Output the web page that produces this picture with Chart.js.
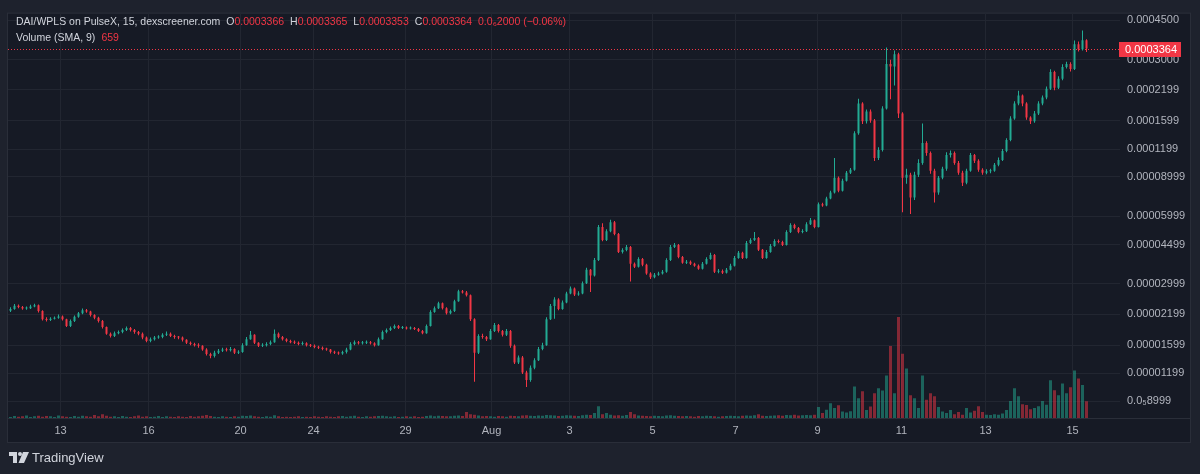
<!DOCTYPE html>
<html>
<head>
<meta charset="utf-8">
<script src="https://cdn.jsdelivr.net/npm/chart.js@4.4.1/dist/chart.umd.min.js"></script>
<style>
  html, body { margin: 0; padding: 0; background: #1e222d; }
  #wrap { position: relative; width: 1200px; height: 474px; overflow: hidden; }
  #c { position: absolute; left: 0; top: 0; }
  .legend { position: absolute; left: 16px; font: 10.5px 'Liberation Sans', Arial, sans-serif; color: #d1d4dc; white-space: nowrap; }
  .legend .r { color: #f23645; }
  .legend .g { margin-left: 6px; }
  #foot { position: absolute; left: 9px; top: 450px; font: 13px 'Liberation Sans', Arial, sans-serif; color: #d1d4dc; }
  #foot svg { vertical-align: -1px; margin-right: 3px; }
</style>
</head>
<body>
<div id="wrap">
  <canvas id="c" width="1200" height="474"></canvas>
  <div class="legend" style="top:15px">DAI/WPLS on PulseX, 15, dexscreener.com<span class="g">O</span><span class="r">0.0003366</span><span class="g">H</span><span class="r">0.0003365</span><span class="g">L</span><span class="r">0.0003353</span><span class="g">C</span><span class="r">0.0003364</span><span class="g r">0.0₆2000 (−0.06%)</span></div>
  <div class="legend" style="top:31px">Volume (SMA, 9)<span class="g r">659</span></div>
  <div id="foot"><svg width="20" height="11" viewBox="0 0 20 11"><path d="M0 0H8V11H4V4H0Z" fill="#d1d4dc"/><circle cx="11" cy="2" r="2" fill="#d1d4dc"/><path d="M14 0H20L15 11H9.5Z" fill="#d1d4dc"/></svg>TradingView</div>
</div>
<script>
(function () {
    'use strict';

    // prices in units of 0.000001, one candle per ~9 bars of the 15m chart
    var UNIT = 1e-6;

    var open = [
        22.8, 23.2, 24.0, 23.7, 23.3, 23.4, 23.8, 24.1, 22.7, 20.9,
        20.7, 21.0, 21.2, 21.5, 20.9, 19.5, 20.5, 21.4, 22.2, 22.9,
        22.6, 21.8, 21.2, 20.5, 19.3, 18.0, 17.6, 18.1, 18.3, 18.7,
        19.1, 18.7, 18.3, 18.0, 17.3, 16.7, 17.0, 17.3, 17.4, 17.8,
        18.0, 17.6, 17.4, 17.3, 16.9, 16.4, 16.2, 16.0, 15.9, 15.3,
        14.6, 14.3, 14.8, 15.1, 15.3, 15.2, 15.4, 14.8, 14.9, 16.0,
        17.0, 17.8, 16.4, 15.9, 16.0, 16.2, 16.5, 18.0, 17.4, 17.0,
        16.7, 16.5, 16.4, 16.2, 16.3, 16.0, 15.9, 15.7, 15.6, 15.4,
        15.3, 14.9, 14.8, 14.7, 14.9, 15.3, 16.2, 16.5, 16.3, 16.4,
        16.5, 16.3, 16.0, 17.0, 18.3, 18.7, 19.1, 19.5, 19.1, 19.2,
        19.0, 19.1, 18.9, 18.5, 18.1, 19.5, 22.5, 23.4, 24.6, 23.4,
        22.2, 22.7, 25.1, 27.8, 27.5, 26.7, 20.9, 14.8, 17.6, 17.4,
        17.0, 18.5, 19.7, 18.5, 17.8, 18.5, 15.9, 13.4, 14.1, 12.1,
        11.2, 12.7, 13.7, 15.4, 16.0, 20.9, 23.9, 25.6, 23.2, 24.8,
        27.2, 28.6, 26.9, 27.2, 30.2, 34.7, 32.7, 38.4, 53.8, 47.1,
        51.6, 56.6, 50.1, 41.7, 42.5, 43.9, 36.9, 35.8, 38.8, 36.5,
        33.4, 32.1, 33.0, 33.4, 34.0, 38.4, 43.9, 44.8, 39.6, 37.3,
        37.7, 36.9, 36.2, 35.1, 36.9, 38.8, 40.4, 34.0, 34.3, 33.7,
        34.7, 36.2, 39.2, 41.3, 39.2, 45.7, 47.1, 48.1, 42.6, 39.2,
        41.7, 44.3, 46.6, 46.2, 44.8, 51.1, 54.9, 53.3, 51.1, 51.6,
        55.4, 57.7, 53.8, 68.0, 67.2, 72.1, 76.7, 89.3, 78.2, 86.6,
        94.0, 96.9, 141.0, 191.2, 159.3, 176.4, 160.8, 109.4, 118.7, 181.8,
        287.0, 280.0, 317.6, 172.8, 89.3, 92.0, 72.9, 92.1, 104.0, 127.4,
        115.1, 96.0, 76.7, 89.3, 97.9, 112.8, 115.1, 104.0, 94.0, 84.9,
        96.0, 112.8, 106.2, 97.0, 94.0, 95.5, 96.0, 101.9, 107.2, 117.5,
        131.4, 164.2, 191.2, 207.5, 191.2, 165.9, 159.3, 172.8, 191.2, 203.3,
        222.7, 264.7, 225.0, 246.5, 278.5, 287.0, 272.8, 351.6, 334.2, 366.0
    ];
    var high = [
        23.6, 24.4, 24.3, 23.9, 23.8, 24.2, 24.5, 24.3, 22.9, 21.3,
        21.3, 21.5, 21.9, 21.7, 21.0, 20.8, 21.7, 22.5, 23.3, 23.2,
        22.8, 22.0, 21.4, 20.7, 19.4, 18.2, 18.4, 18.6, 19.0, 19.4,
        19.3, 18.9, 18.5, 18.2, 17.5, 17.3, 17.6, 17.7, 18.1, 18.4,
        18.2, 17.8, 17.6, 17.5, 17.0, 16.6, 16.4, 16.3, 16.0, 15.5,
        14.8, 15.1, 15.4, 15.6, 15.6, 15.7, 15.5, 15.2, 16.3, 17.4,
        18.5, 17.9, 16.5, 16.3, 16.5, 16.8, 18.8, 18.2, 17.6, 17.2,
        16.9, 16.8, 16.6, 16.6, 16.5, 16.2, 16.1, 15.9, 15.8, 15.6,
        15.4, 15.1, 15.0, 15.1, 15.6, 16.5, 16.8, 16.7, 16.7, 16.8,
        16.7, 16.5, 17.3, 18.6, 19.0, 19.4, 19.8, 19.7, 19.5, 19.4,
        19.4, 19.3, 19.1, 18.7, 19.8, 22.9, 23.8, 25.0, 24.8, 23.6,
        23.1, 25.5, 28.3, 28.2, 27.9, 26.9, 21.1, 17.9, 18.0, 17.6,
        18.9, 20.1, 19.9, 18.7, 18.9, 18.7, 16.1, 14.4, 14.3, 12.3,
        13.0, 14.0, 15.7, 16.4, 21.3, 24.4, 26.2, 25.9, 25.3, 27.7,
        29.2, 28.9, 27.8, 30.8, 35.4, 35.0, 39.2, 55.0, 56.0, 52.6,
        58.0, 57.2, 50.6, 43.3, 44.8, 44.3, 37.4, 39.5, 39.2, 36.9,
        33.8, 33.6, 34.0, 34.6, 39.1, 44.7, 45.7, 45.2, 40.0, 38.4,
        38.2, 37.3, 36.6, 37.6, 39.5, 41.3, 40.8, 35.0, 34.8, 35.3,
        36.9, 40.0, 42.1, 41.8, 46.6, 48.0, 51.1, 48.6, 43.0, 42.5,
        45.2, 47.5, 47.4, 46.8, 52.1, 56.0, 55.6, 53.8, 52.6, 56.5,
        59.0, 58.2, 69.3, 69.0, 73.5, 78.2, 109.4, 90.5, 88.3, 95.8,
        98.8, 144, 201, 194, 180, 180, 163, 122, 186, 340,
        300, 330, 322, 175, 98, 94, 95, 108, 156, 130,
        117, 98, 91, 100, 116, 118, 117, 106, 96, 98,
        115, 114, 108, 98.5, 97.5, 98, 104, 110, 120, 134,
        168, 196, 218, 210, 194, 168, 177, 196, 208, 228,
        272, 268, 253, 286, 294, 292, 365, 362, 405, 370
    ];
    var low = [
        22.5, 23.0, 23.4, 23.0, 23.0, 23.2, 23.6, 22.4, 20.6, 20.4,
        20.5, 20.8, 21.0, 20.6, 19.3, 19.3, 20.3, 21.2, 22.0, 22.3,
        21.5, 20.9, 20.2, 19.0, 17.8, 17.3, 17.4, 17.9, 18.1, 18.5,
        18.4, 18.0, 17.7, 17.0, 16.5, 16.5, 16.8, 17.1, 17.2, 17.6,
        17.4, 17.1, 17.0, 16.6, 16.2, 16.0, 15.8, 15.6, 15.1, 14.4,
        14.0, 14.1, 14.6, 14.9, 15.0, 15.0, 14.6, 14.6, 14.8, 15.9,
        16.9, 16.2, 15.7, 15.7, 15.8, 16.0, 16.4, 17.2, 16.8, 16.5,
        16.3, 16.2, 16.0, 16.0, 15.8, 15.7, 15.5, 15.4, 15.2, 15.1,
        14.7, 14.6, 14.5, 14.5, 14.7, 15.2, 16.0, 16.1, 16.1, 16.2,
        16.1, 15.8, 15.9, 16.9, 18.1, 18.5, 18.9, 18.9, 18.9, 18.8,
        18.8, 18.7, 18.3, 17.9, 18.0, 19.4, 22.3, 23.2, 23.1, 21.9,
        22.0, 22.5, 25.0, 27.2, 26.4, 20.5, 11.0, 14.6, 17.1, 16.7,
        16.9, 18.3, 18.2, 17.5, 17.6, 15.6, 13.2, 13.2, 11.9, 10.4,
        11.0, 12.5, 13.6, 15.2, 15.9, 20.7, 21.0, 22.9, 23.0, 24.6,
        27.0, 26.5, 26.6, 27.0, 30.0, 27.6, 32.4, 38.0, 46.5, 46.6,
        51.0, 49.5, 41.2, 41.0, 42.0, 30.8, 35.3, 35.5, 36.0, 33.0,
        31.6, 31.8, 32.6, 33.1, 33.7, 38.0, 43.4, 39.1, 36.9, 36.8,
        36.4, 35.8, 34.7, 34.8, 36.6, 38.5, 33.6, 33.5, 33.2, 33.4,
        34.4, 35.9, 38.9, 38.8, 38.9, 45.2, 46.6, 42.1, 38.8, 38.9,
        41.3, 44.0, 45.6, 44.3, 44.5, 50.6, 52.6, 50.5, 50.5, 51.2,
        55.0, 53.2, 53.5, 66.2, 66.6, 71.5, 76.0, 77.0, 77.6, 85.8,
        92.8, 96, 139, 155, 156, 157, 106, 107, 117, 180,
        200, 230, 165, 62.6, 84, 61.5, 71, 90, 102, 112,
        93, 69.3, 75, 88, 96, 110, 102, 92, 82, 83.5,
        95, 104, 95, 92, 92.5, 93.5, 95, 100.5, 106, 116,
        130, 162, 188, 186, 162, 155, 157, 170, 188, 200,
        220, 219, 222, 243, 274, 266, 270, 326, 330, 325
    ];
    var close = [
        23.2, 24.0, 23.7, 23.3, 23.4, 23.8, 24.1, 22.7, 20.9, 20.7,
        21.0, 21.2, 21.5, 20.9, 19.5, 20.5, 21.4, 22.2, 22.9, 22.6,
        21.8, 21.2, 20.5, 19.3, 18.0, 17.6, 18.1, 18.3, 18.7, 19.1,
        18.7, 18.3, 18.0, 17.3, 16.7, 17.0, 17.3, 17.4, 17.8, 18.0,
        17.6, 17.4, 17.3, 16.9, 16.4, 16.2, 16.0, 15.9, 15.3, 14.6,
        14.3, 14.8, 15.1, 15.3, 15.2, 15.4, 14.8, 14.9, 16.0, 17.0,
        17.8, 16.4, 15.9, 16.0, 16.2, 16.5, 18.0, 17.4, 17.0, 16.7,
        16.5, 16.4, 16.2, 16.3, 16.0, 15.9, 15.7, 15.6, 15.4, 15.3,
        14.9, 14.8, 14.7, 14.9, 15.3, 16.2, 16.5, 16.3, 16.4, 16.5,
        16.3, 16.0, 17.0, 18.3, 18.7, 19.1, 19.5, 19.1, 19.2, 19.0,
        19.1, 18.9, 18.5, 18.1, 19.5, 22.5, 23.4, 24.6, 23.4, 22.2,
        22.7, 25.1, 27.8, 27.5, 26.7, 20.9, 14.8, 17.6, 17.4, 17.0,
        18.5, 19.7, 18.5, 17.8, 18.5, 15.9, 13.4, 14.1, 12.1, 11.2,
        12.7, 13.7, 15.4, 16.0, 20.9, 23.9, 25.6, 23.2, 24.8, 27.2,
        28.6, 26.9, 27.2, 30.2, 34.7, 32.7, 38.4, 53.8, 47.1, 51.6,
        56.6, 50.1, 41.7, 42.5, 43.9, 36.9, 35.8, 38.8, 36.5, 33.4,
        32.1, 33.0, 33.4, 34.0, 38.4, 43.9, 44.8, 39.6, 37.3, 37.7,
        36.9, 36.2, 35.1, 36.9, 38.8, 40.4, 34.0, 34.3, 33.7, 34.7,
        36.2, 39.2, 41.3, 39.2, 45.7, 47.1, 48.1, 42.6, 39.2, 41.7,
        44.3, 46.6, 46.2, 44.8, 51.1, 54.9, 53.3, 51.1, 51.6, 55.4,
        57.7, 53.8, 68.0, 67.2, 72.1, 76.7, 89.3, 78.2, 86.6, 94.0,
        96.9, 141.0, 191.2, 159.3, 176.4, 160.8, 109.4, 118.7, 181.8, 287.0,
        280.0, 317.6, 172.8, 89.3, 92.0, 72.9, 92.1, 104.0, 127.4, 115.1,
        96.0, 76.7, 89.3, 97.9, 112.8, 115.1, 104.0, 94.0, 84.9, 96.0,
        112.8, 106.2, 97.0, 94.0, 95.5, 96.0, 101.9, 107.2, 117.5, 131.4,
        164.2, 191.2, 207.5, 191.2, 165.9, 159.3, 172.8, 191.2, 203.3, 222.7,
        264.7, 225.0, 246.5, 278.5, 287.0, 272.8, 351.6, 334.2, 366.0, 336.4
    ];
    var volume = [
        20, 35, 25, 30, 45, 20, 30, 40, 25, 35,
        30, 20, 45, 30, 25, 20, 35, 25, 40, 30,
        25, 55, 30, 70, 40, 25, 30, 20, 35, 25,
        20, 30, 45, 25, 30, 20, 25, 35, 20, 30,
        25, 20, 30, 25, 20, 35, 25, 30, 40, 55,
        35, 25, 20, 30, 25, 20, 30, 25, 40, 35,
        45, 30, 25, 20, 30, 25, 50, 30, 20, 25,
        20, 25, 30, 20, 25, 20, 30, 25, 20, 30,
        25, 20, 30, 35, 25, 30, 40, 25, 20, 30,
        25, 30, 35, 40, 30, 25, 30, 20, 25, 30,
        25, 30, 20, 25, 35, 45, 30, 40, 35, 30,
        30, 40, 45, 35, 110, 70, 60, 45, 30, 35,
        30, 25, 35, 30, 25, 40, 35, 30, 45, 50,
        40, 35, 45, 40, 55, 50, 45, 35, 40, 50,
        45, 40, 35, 50, 60, 55, 90, 215, 70, 90,
        60, 45, 50, 40, 55, 110, 70, 45, 40, 35,
        30, 40, 35, 30, 45, 50, 40, 35, 30, 35,
        30, 25, 35, 30, 40, 35, 30, 25, 30, 35,
        40, 35, 30, 40, 45, 40, 50, 70, 40, 35,
        40, 45, 50, 40, 55, 50, 60, 45, 50, 55,
        50, 60, 200, 90, 150, 270, 180, 230, 120, 100,
        125, 575, 360, 485, 145, 210, 450, 540, 500, 775,
        1310, 450, 1840, 1170, 900, 415, 360, 180, 775, 330,
        450, 395, 200, 120, 90, 145, 70, 110, 60, 180,
        100, 130, 215, 110, 60, 55, 70, 60, 80, 145,
        310, 540, 395, 250, 235, 160, 180, 215, 310, 240,
        685, 505, 415, 630, 450, 560, 865, 720, 600, 305
    ];

    // time axis: position (in candles) of each day label
    var dayLabels = ['13', '16', '20', '24', '29', 'Aug', '3', '5', '7', '9', '11', '13', '15'];
    var dayTickAt = [13, 35, 58, 76.25, 99.25, 120.75, 140.25, 161, 181.75, 202.25, 223.25, 244.25, 266];

    // price axis ticks (units of 0.000001)
    var priceTicks = [8.999, 11.99, 15.99, 21.99, 29.99, 44.99, 59.99, 89.99, 119.9, 159.9, 219.9, 300, 450];
    var priceLabels = ['0.0₅8999', '0.00001199', '0.00001599', '0.00002199', '0.00002999', '0.00004499',
        '0.00005999', '0.00008999', '0.0001199', '0.0001599', '0.0002199', '0.0003000', '0.0004500'];

    var UP = '#22ab94', DOWN = '#f23645';
    var UP_V = 'rgba(34,171,148,0.5)', DOWN_V = 'rgba(242,54,69,0.5)';

    var n = close.length;
    var bodies = [], wicks = [], vols = [];
    for (var i = 0; i < n; i++) {
        bodies.push({ x: i + 0.5, y: [open[i] * UNIT, close[i] * UNIT] });
        wicks.push({ x: i + 0.5, y: [low[i] * UNIT, high[i] * UNIT] });
        vols.push({ x: i + 0.5, y: volume[i] });
    }
    var isUp = function (ctx) { return close[ctx.dataIndex] >= open[ctx.dataIndex]; };

    var frame = {
        id: 'frame',
        beforeDraw: function (chart) {
            var ctx = chart.ctx, a = chart.chartArea;
            ctx.save();
            ctx.fillStyle = '#1e222d';
            ctx.fillRect(0, 0, chart.width, chart.height);
            ctx.fillStyle = '#161a25';
            ctx.fillRect(a.left, a.top, chart.width - 10 - a.left, 442 - a.top);
            ctx.strokeStyle = '#2a2e39';
            ctx.lineWidth = 1;
            ctx.strokeRect(a.left - 0.5, a.top - 0.5, chart.width - 10 - a.left + 1, 442 - a.top + 1);
            ctx.beginPath();
            ctx.moveTo(a.left, a.bottom + 0.5);
            ctx.lineTo(chart.width - 10, a.bottom + 0.5);
            ctx.stroke();
            ctx.restore();
        },
        beforeDatasetsDraw: function (chart) {
            var ctx = chart.ctx, a = chart.chartArea;
            var y = Math.round(chart.scales.y.getPixelForValue(close[n - 1] * UNIT)) + 0.5;
            ctx.save();
            ctx.strokeStyle = DOWN;
            ctx.setLineDash([1, 2]);
            ctx.beginPath();
            ctx.moveTo(a.left, y);
            ctx.lineTo(a.right, y);
            ctx.stroke();
            ctx.restore();
        },
        afterDraw: function (chart) {
            var ctx = chart.ctx, a = chart.chartArea;
            var y = chart.scales.y.getPixelForValue(close[n - 1] * UNIT);
            ctx.save();
            ctx.fillStyle = DOWN;
            ctx.fillRect(a.right - 1, Math.round(y) - 7, 62, 15);
            ctx.fillStyle = '#ffffff';
            ctx.font = '11px "Liberation Sans", Arial, sans-serif';
            ctx.textBaseline = 'middle';
            ctx.fillText((close[n - 1] * UNIT).toFixed(7), a.right + 5, Math.round(y) + 0.5);
            ctx.restore();
        }
    };

    new Chart(document.getElementById('c'), {
        type: 'bar',
        data: {
            datasets: [
                { label: 'body', data: bodies, yAxisID: 'y', order: 1, grouped: false, barThickness: 2, minBarLength: 1, inflateAmount: 0, borderWidth: 0,
                  backgroundColor: function (ctx) { return isUp(ctx) ? UP : DOWN; } },
                { label: 'wick', data: wicks, yAxisID: 'y', order: 2, grouped: false, barThickness: 1, minBarLength: 1, inflateAmount: 0, borderWidth: 0,
                  backgroundColor: function (ctx) { return isUp(ctx) ? UP : DOWN; } },
                { label: 'volume', data: vols, yAxisID: 'yv', order: 3, grouped: false, barThickness: 3, inflateAmount: 0, borderWidth: 0,
                  backgroundColor: function (ctx) { return isUp(ctx) ? UP_V : DOWN_V; } }
            ]
        },
        options: {
            responsive: false,
            devicePixelRatio: 1,
            animation: false,
            layout: { padding: { left: 8, top: 9, right: 10, bottom: 32 } },
            plugins: { legend: { display: false }, tooltip: { enabled: false } },
            scales: {
                x: {
                    type: 'linear', min: -0.125, max: 277.875, offset: false,
                    afterBuildTicks: function (s) { s.ticks = dayTickAt.map(function (v) { return { value: v }; }); },
                    afterFit: function (s) { s.height = 24; },
                    ticks: { autoSkip: false, maxRotation: 0, padding: 6, color: '#b2b5be',
                             font: { family: '"Liberation Sans", Arial, sans-serif', size: 11 },
                             callback: function (v, i) { return dayLabels[i]; } },
                    grid: { color: '#222631', drawTicks: false, offset: false },
                    border: { display: false }
                },
                y: {
                    type: 'logarithmic', position: 'right',
                    min: 7.574 * UNIT, max: 481.7 * UNIT,
                    afterBuildTicks: function (s) { s.ticks = priceTicks.map(function (v) { return { value: v * UNIT }; }); },
                    afterFit: function (s) { s.width = 70; },
                    ticks: { padding: 7, crossAlign: 'near', color: '#b2b5be',
                             font: { family: '"Liberation Sans", Arial, sans-serif', size: 11 },
                             callback: function (v, i) { return priceLabels[i]; } },
                    grid: { color: '#222631', drawTicks: false },
                    border: { display: false }
                },
                yv: { type: 'linear', display: false, min: 0, max: 7360 }
            }
        },
        plugins: [frame]
    });
})();
</script>
</body>
</html>
